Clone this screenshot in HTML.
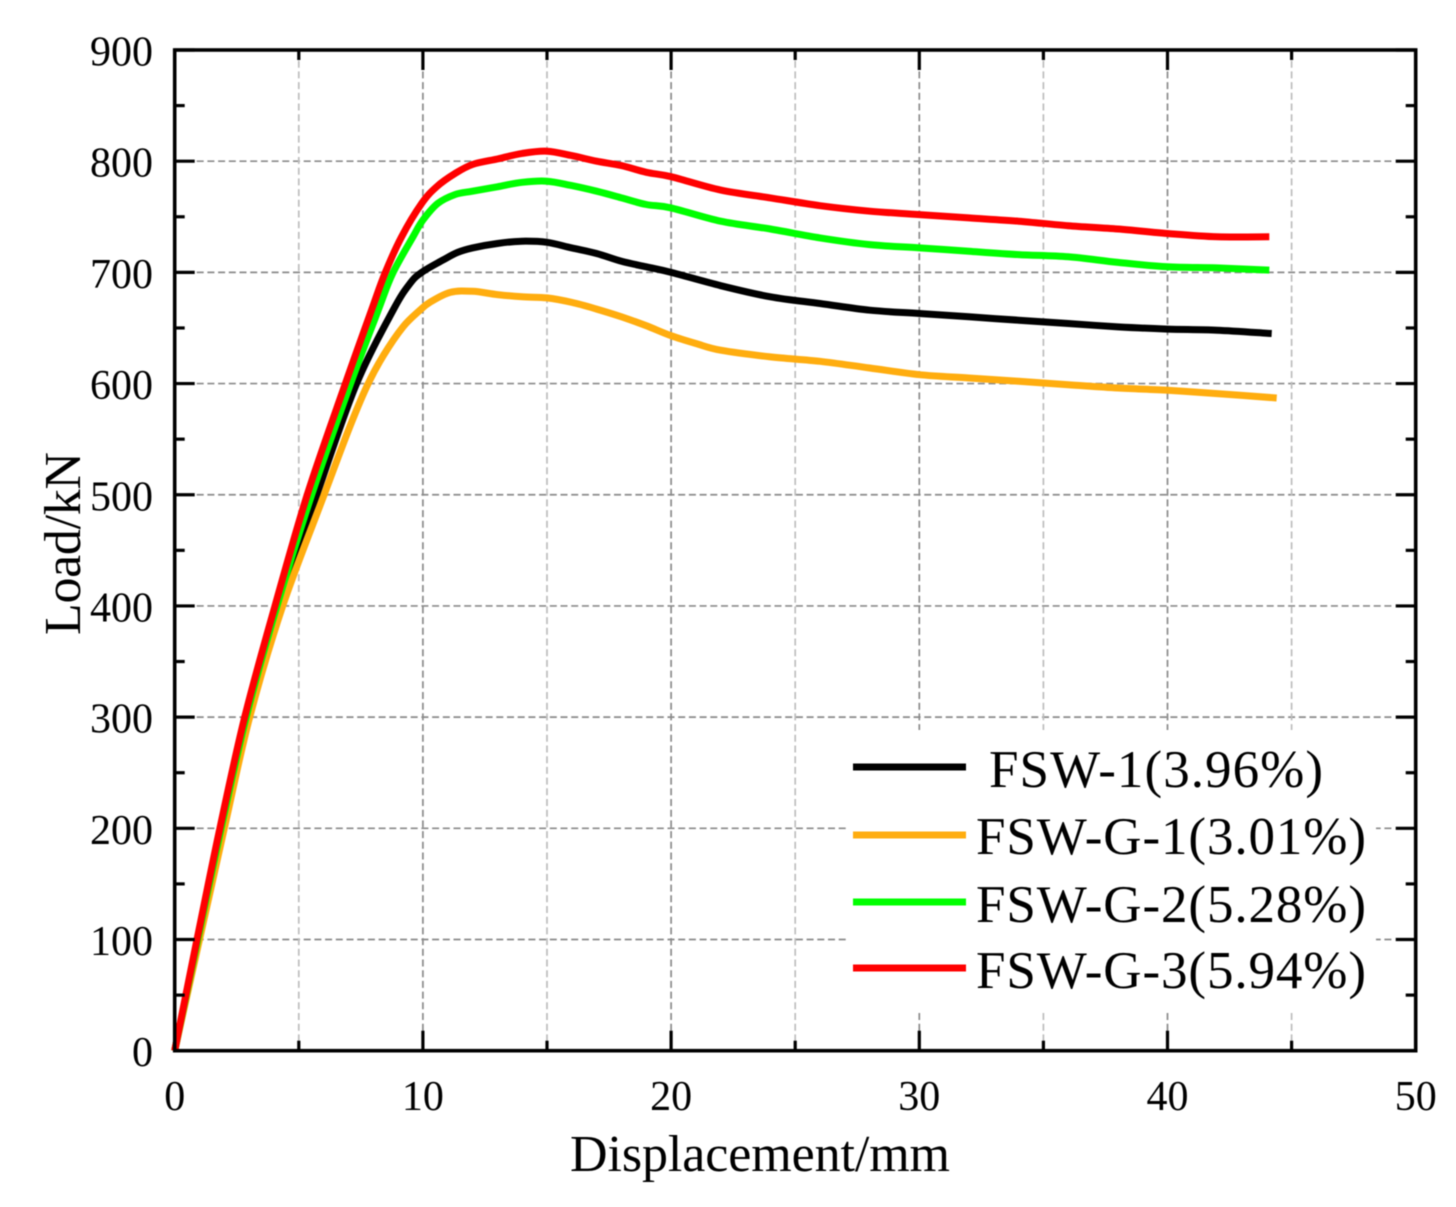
<!DOCTYPE html>
<html lang="en">
<head>
<meta charset="utf-8">
<title>Load-displacement curves</title>
<style>
html,body{margin:0;padding:0;background:#fff;width:1456px;height:1207px;overflow:hidden}
svg{display:block;filter:blur(.4px)}
text{font-family:"Liberation Serif",serif;fill:#000}
</style>
</head>
<body>
<svg id="chart" xmlns="http://www.w3.org/2000/svg" width="1456" height="1207" viewBox="0 0 1456 1207">
  <g id="grid"></g>
  <g id="series"></g>
  <rect x="846" y="730" width="530" height="280" fill="#fff"></rect>
  <g id="axes"></g>
  <g id="ticklabels" font-size="42"></g>
  <text transform="translate(80,635) rotate(-90)" font-size="52" textLength="183" lengthAdjust="spacing">Load/kN</text>
  <text x="570" y="1171" font-size="52" textLength="380" lengthAdjust="spacing">Displacement/mm</text>
  <g>
    <g>
      <line x1="853" x2="966" y1="767" y2="767" stroke="#000" stroke-width="7"></line>
      <text x="989" y="787" font-size="53" textLength="334" lengthAdjust="spacing">FSW-1(3.96%)</text>
    </g>
    <g>
      <line x1="853" x2="966" y1="835" y2="835" stroke="#ffad0f" stroke-width="7"></line>
      <text x="976" y="854" font-size="53" textLength="390" lengthAdjust="spacing">FSW-G-1(3.01%)</text>
    </g>
    <g>
      <line x1="853" x2="966" y1="902" y2="902" stroke="#00ff00" stroke-width="7"></line>
      <text x="976" y="922" font-size="53" textLength="390" lengthAdjust="spacing">FSW-G-2(5.28%)</text>
    </g>
    <g>
      <line x1="853" x2="966" y1="968" y2="968" stroke="#ff0000" stroke-width="7"></line>
      <text x="976" y="988" font-size="53" textLength="390" lengthAdjust="spacing">FSW-G-3(5.94%)</text>
    </g>
  </g>
</svg>
<script>
const xTickLabels = [0, 10, 20, 30, 40, 50];
const yTickLabels = [0, 100, 200, 300, 400, 500, 600, 700, 800, 900];
const xMinorTicks = [5, 15, 25, 35, 45];
const yMinorTicks = [50, 150, 250, 350, 450, 550, 650, 750, 850];

const fsw1X = [0, 0.95, 1.92, 2.95, 4.2, 5.72, 7.31, 8.8, 9.48, 9.95, 10.8, 11.4, 12, 13, 14, 15, 16, 17, 18, 19, 20, 22, 24, 26, 28, 30, 32, 34, 36, 38, 40, 42, 44.2];
const fsw1Y = [0, 100, 200, 300, 400, 500, 599, 666, 690, 700, 711, 718, 722, 726, 728, 727, 722, 717, 710, 705, 700, 688, 678, 672, 666, 663, 660, 657, 654, 651, 649, 648, 645];

const fswG1X = [0, 1, 2, 3.02, 4.35, 6.02, 7, 7.73, 8.4, 9.2, 9.88, 10.28, 11.1, 12, 13, 14, 15, 16, 17, 18, 19, 20, 21, 22, 24, 26, 28, 30, 32, 34, 36, 38, 40, 42, 44.4];
const fswG1Y = [0, 100, 200, 300, 400, 500, 558, 597, 625, 651, 666, 673, 682, 683, 680, 678, 677, 673, 667, 660, 652, 643, 636, 630, 624, 620, 614, 608, 605, 602, 599, 596, 594, 591, 587];

const fswG2X = [0, 0.93, 1.87, 2.88, 4.12, 5.52, 7.07, 8.2, 8.78, 9.6, 10, 10.6, 11.3, 12, 13, 14, 15, 16, 17, 18, 19, 20, 22, 24, 26, 28, 30, 32, 34, 36, 38, 40, 42, 44.1];
const fswG2Y = [0, 100, 200, 300, 400, 500, 599, 666, 699, 732, 747, 762, 770, 773, 777, 781, 782, 778, 773, 767, 761, 758, 746, 739, 731, 725, 722, 719, 716, 714, 709, 705, 704, 702];

const fswG3X = [0, 0.9, 1.82, 2.82, 4.04, 5.34, 6.86, 7.93, 8.47, 9.14, 9.95, 10.55, 11.3, 12, 13, 14, 15, 16, 17, 18, 19, 20, 22, 24, 26, 28, 30, 32, 34, 36, 38, 40, 42, 44.1];
const fswG3Y = [0, 100, 200, 300, 400, 500, 599, 666, 699, 732, 762, 777, 789, 797, 802, 807, 809, 805, 800, 796, 790, 786, 774, 767, 760, 755, 752, 749, 746, 742, 739, 735, 732, 732];

const NS = 'http://www.w3.org/2000/svg';
const sx = v => 174.7 + v * 24.82;
const sy = v => 1050.7 - v * 1.1119;
const left = sx(0), right = sx(50), top0 = sy(900), bottom = sy(0);

function line(parent, x1, y1, x2, y2, stroke, width, dash) {
  const el = document.createElementNS(NS, 'line');
  el.setAttribute('x1', x1);
  el.setAttribute('y1', y1);
  el.setAttribute('x2', x2);
  el.setAttribute('y2', y2);
  el.setAttribute('stroke', stroke);
  el.setAttribute('stroke-width', width);
  if (dash) el.setAttribute('stroke-dasharray', dash);
  parent.appendChild(el);
  return el;
}

const gridG = document.getElementById('grid');
const axesG = document.getElementById('axes');
const labelG = document.getElementById('ticklabels');

yTickLabels.slice(1, -1).forEach(v => {
  const el = line(gridG, left + 22, sy(v), right - 22, sy(v), '#8a8a8a', 1.7, '7 3.7');
  
  
});
xTickLabels.slice(1, -1).forEach(v => {
  const el = line(gridG, sx(v), top0, sx(v), bottom, '#8a8a8a', 1.7, '7 3.7');
  
  
});
xMinorTicks.forEach(v => {
  const el = line(gridG, sx(v), top0, sx(v), bottom, '#bdbdbd', 1.7, '7 3.7');
  
  
});

const seriesG = document.getElementById('series');
function smoothPath(xs, ys) {
  const p = xs.map((x, i) => [sx(x), sy(ys[i])]);
  let d = 'M' + p[0][0].toFixed(1) + ' ' + p[0][1].toFixed(1);
  for (let i = 0; i < p.length - 1; i++) {
    const a = p[Math.max(i - 1, 0)], b = p[i], c = p[i + 1], e = p[Math.min(i + 2, p.length - 1)];
    const c1x = b[0] + (c[0] - a[0]) / 6, c1y = b[1] + (c[1] - a[1]) / 6;
    const c2x = c[0] - (e[0] - b[0]) / 6, c2y = c[1] - (e[1] - b[1]) / 6;
    d += 'C' + c1x.toFixed(1) + ' ' + c1y.toFixed(1) + ' ' + c2x.toFixed(1) + ' ' + c2y.toFixed(1) + ' ' + c[0].toFixed(1) + ' ' + c[1].toFixed(1);
  }
  return d;
}
function drawSeries(xs, ys, color) {
  const el = document.createElementNS(NS, 'path');
  el.setAttribute('d', smoothPath(xs, ys));
  el.setAttribute('fill', 'none');
  el.setAttribute('stroke', color);
  el.setAttribute('stroke-width', '7');
  el.setAttribute('stroke-linejoin', 'round');
  seriesG.appendChild(el);
  return el;
}
const s1 = drawSeries(fsw1X, fsw1Y, '#000000');


const s2 = drawSeries(fswG1X, fswG1Y, '#ffad0f');


const s3 = drawSeries(fswG2X, fswG2Y, '#00ff00');


const s4 = drawSeries(fswG3X, fswG3Y, '#ff0000');



const frame = document.createElementNS(NS, 'rect');
frame.setAttribute('x', left);
frame.setAttribute('y', top0);
frame.setAttribute('width', right - left);
frame.setAttribute('height', bottom - top0);
frame.setAttribute('fill', 'none');
frame.setAttribute('stroke', '#000');
frame.setAttribute('stroke-width', '3.6');


axesG.appendChild(frame);

xTickLabels.forEach(v => {
  const a = line(axesG, sx(v), bottom, sx(v), bottom - 20, '#000', 3.2);
  
  
  const b = line(axesG, sx(v), top0, sx(v), top0 + 20, '#000', 3.2);
  
  
  const t = document.createElementNS(NS, 'text');
  t.setAttribute('x', sx(v));
  t.setAttribute('y', 1110);
  t.setAttribute('text-anchor', 'middle');
  
  
  t.textContent = v;
  labelG.appendChild(t);
});
xMinorTicks.forEach(v => {
  const a = line(axesG, sx(v), bottom, sx(v), bottom - 10, '#000', 3.2);
  
  
  const b = line(axesG, sx(v), top0, sx(v), top0 + 10, '#000', 3.2);
  
  
});
yTickLabels.forEach(v => {
  const a = line(axesG, left, sy(v), left + 20, sy(v), '#000', 3.2);
  
  
  const b = line(axesG, right, sy(v), right - 20, sy(v), '#000', 3.2);
  
  
  const t = document.createElementNS(NS, 'text');
  t.setAttribute('x', 153);
  t.setAttribute('y', sy(v) + 15.5);
  t.setAttribute('text-anchor', 'end');
  
  
  t.textContent = v;
  labelG.appendChild(t);
});
yMinorTicks.forEach(v => {
  const a = line(axesG, left, sy(v), left + 10, sy(v), '#000', 3.2);
  
  
  const b = line(axesG, right, sy(v), right - 10, sy(v), '#000', 3.2);
  
  
});
</script>
</body>
</html>
